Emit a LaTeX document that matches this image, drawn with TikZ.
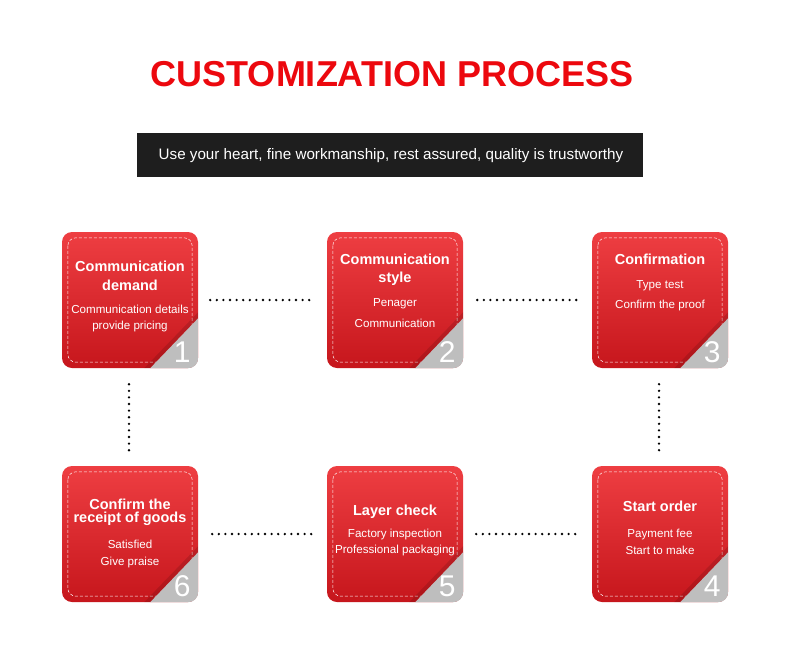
\documentclass[tikz,border=0pt]{standalone}
\usepackage{fontspec}
\setmainfont{Liberation Sans}
\usetikzlibrary{calc}
\definecolor{titlered}{RGB}{236,8,14}
\definecolor{bartop}{RGB}{30,30,30}
\definecolor{boxtop}{RGB}{238,62,66}
\definecolor{boxbot}{RGB}{198,22,28}
\definecolor{foldgrey}{RGB}{190,190,190}
\tikzset{
  stepbox/.style={minimum width=136pt, minimum height=136pt, inner sep=0pt,
    rounded corners=10pt, top color=boxtop, bottom color=boxbot, draw=none},
  ttl/.style={text=white, font=\fontsize{14.5}{16}\selectfont\bfseries, inner sep=0pt},
  bdy/.style={text=white, font=\fontsize{11.6}{13}\selectfont, inner sep=0pt},
  num/.style={text=white, font=\fontsize{30}{30}\selectfont, inner sep=0pt},
  dots/.style={line width=2.6pt, line cap=round, dash pattern=on 0pt off 6.6pt, black},
}
\newcommand{\decorbox}[2]{%
  \draw[white, line width=0.5pt, dash pattern=on 3pt off 2pt, rounded corners=8pt]
    ($(#1.north west)+(6,6)$) rectangle ($(#1.south east)+(-6,-6)$);
  \begin{scope}
    \clip[rounded corners=10pt] (#1.south west) rectangle (#1.north east);
    \fill[black, opacity=0.12] ($(#1.south east)+(-54,0)$) -- ($(#1.south east)+(0,-56)$) -- ($(#1.south east)+(0,-50)$) -- ($(#1.south east)+(-48,0)$) -- cycle;
    \fill[foldgrey] ($(#1.south east)+(-48,0)$) -- ($(#1.south east)+(0,-50)$) -- ($(#1.south east)+(0,0)$) -- cycle;
  \end{scope}
  \node[num] (#1n) at ($(#1.south east)+(-16,-16)$) {#2};
}
\begin{document}
\begin{tikzpicture}[x=1pt, y=-1pt]
\useasboundingbox (0,0) rectangle (790,664);
\fill[white] (0,0) rectangle (790,664);

\node[text=titlered, font=\fontsize{36}{36}\selectfont\bfseries, inner sep=0pt] (title) at (392,74) {CUSTOMIZATION PROCESS};
\node[fill=bartop, minimum width=506pt, minimum height=44pt, inner sep=0pt] (bar) at (390,155) {};
\node[text=white, font=\fontsize{15.2}{17}\selectfont, inner sep=0pt] (sub) at (391,156) {Use your heart, fine workmanship, rest assured, quality is trustworthy};

\node[stepbox] (b1) at (130,300) {};
\node[stepbox] (b2) at (395,300) {};
\node[stepbox] (b3) at (660,300) {};
\node[stepbox] (b6) at (130,534) {};
\node[stepbox] (b5) at (395,534) {};
\node[stepbox] (b4) at (660,534) {};

\decorbox{b1}{1}
\decorbox{b2}{2}
\decorbox{b3}{3}
\decorbox{b4}{4}
\decorbox{b5}{5}
\decorbox{b6}{6}

% box 1
\node[ttl] (t1a) at (130,266) {Communication};
\node[ttl] (t1b) at (130,285) {demand};
\node[bdy] (t1c) at (130,309) {Communication details};
\node[bdy] (t1d) at (130,326) {provide pricing};
% box 2
\node[ttl] (t2a) at (395,259) {Communication};
\node[ttl] (t2b) at (395,279) {style};
\node[bdy] (t2c) at (395,304) {Penager};
\node[bdy] (t2d) at (395,323) {Communication};
% box 3
\node[ttl] (t3a) at (660,259) {Confirmation};
\node[bdy] (t3b) at (660,286) {Type test};
\node[bdy] (t3c) at (660,305) {Confirm the proof};
% box 6
\node[ttl] (t6a) at (130,504) {Confirm the};
\node[ttl] (t6b) at (130,519) {receipt of goods};
\node[bdy] (t6c) at (130,544) {Satisfied};
\node[bdy] (t6d) at (130,562) {Give praise};
% box 5
\node[ttl] (t5a) at (395,512) {Layer check};
\node[bdy] (t5b) at (395,534) {Factory inspection};
\node[bdy] (t5c) at (395,550) {Professional packaging};
% box 4
\node[ttl] (t4a) at (660,506) {Start order};
\node[bdy] (t4b) at (660,534) {Payment fee};
\node[bdy] (t4c) at (660,550) {Start to make};

% connectors
\draw[dots, shorten <=12pt, shorten >=15pt] (b1.east) -- (b2.west);
\draw[dots, shorten <=14pt, shorten >=13pt] (b2.east) -- (b3.west);
\draw[dots, shorten <=14pt, shorten >=13pt] (b6.east) -- (b5.west);
\draw[dots, shorten <=13pt, shorten >=14pt] (b5.east) -- (b4.west);
\draw[dots, shorten <=16pt, shorten >=15pt] ($(b1.south)+(-1,0)$) -- ($(b6.north)+(-1,0)$);
\draw[dots, shorten <=16pt, shorten >=15pt] ($(b3.south)+(-1,0)$) -- ($(b4.north)+(-1,0)$);
\end{tikzpicture}
\end{document}
